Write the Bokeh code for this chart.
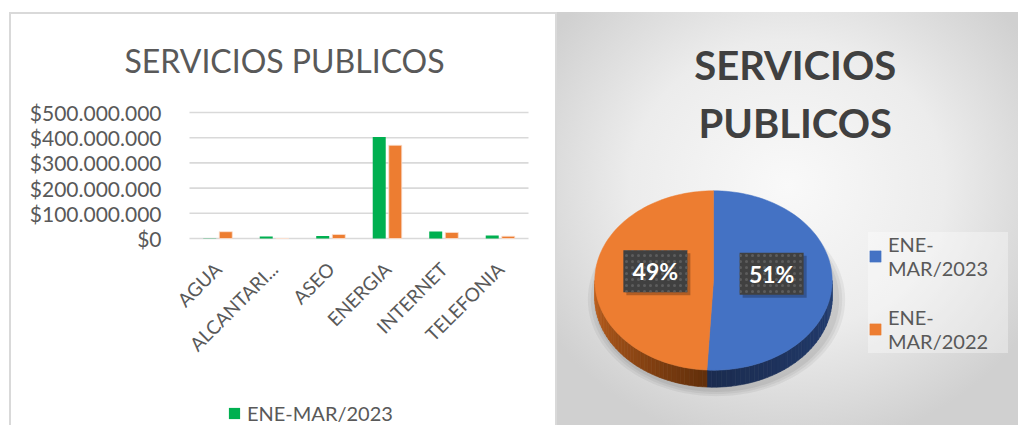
import math
from bokeh.plotting import figure
from bokeh.layouts import row
from bokeh.models import (ColumnDataSource, Range1d, FixedTicker,
                          Legend, LegendItem, Label)
from bokeh.core.properties import value
from bokeh.embed import file_html
from bokeh.resources import INLINE

# ---------------- data ----------------
categories = ["AGUA", "ALCANTARI...", "ASEO", "ENERGIA", "INTERNET", "TELEFONIA"]
series_names = ["ENE-MAR/2023", "ENE-MAR/2022"]
values_2023 = [1_000_000, 8_000_000, 10_000_000, 403_000_000, 28_000_000, 12_000_000]
values_2022 = [27_000_000, 0, 16_000_000, 370_000_000, 24_000_000, 9_000_000]
y_ticks = [0, 100_000_000, 200_000_000, 300_000_000, 400_000_000, 500_000_000]
y_tick_labels = ["$0", "$100.000.000", "$200.000.000", "$300.000.000",
                 "$400.000.000", "$500.000.000"]
chart_title = "SERVICIOS PUBLICOS"
pie_title_lines = ["SERVICIOS", "PUBLICOS"]
pie_labels = ["ENE-\nMAR/2023", "ENE-\nMAR/2022"]
pie_values = [sum(values_2023), sum(values_2022)]

GREEN, ORANGE, BLUE = "#00B050", "#ED7D31", "#4472C4"
TXT = "#595959"
FONT = "Lato"

# ---------------- left: clustered bar chart ----------------
W1, H1 = 548, 413
AX_LEFT_PX, AX_RIGHT_PX = 180, 519       # pixel columns of the plot area
AX_TOP_PX, AX_BOT_PX = 100, 226          # pixel rows of the 500M and 0 gridlines
ncat = len(categories)
YMAX = y_ticks[-1]
py_per_unit = (AX_BOT_PX - AX_TOP_PX) / YMAX
px_per_cat = (AX_RIGHT_PX - AX_LEFT_PX) / ncat
x_lo = -AX_LEFT_PX / px_per_cat
x_hi = ncat + (W1 - AX_RIGHT_PX) / px_per_cat
y_hi = YMAX + AX_TOP_PX / py_per_unit
y_lo = -(H1 - AX_BOT_PX) / py_per_unit

p1 = figure(width=W1, height=H1,
            x_range=Range1d(x_lo, x_hi), y_range=Range1d(y_lo, y_hi),
            output_backend="svg", toolbar_location=None,
            min_border=0, margin=(12, 0, 0, 9))
p1.frame_align = False
p1.outline_line_color = None
p1.background_fill_color = None
p1.border_fill_color = None
p1.styles = {"background": "white",
             "box-shadow": "inset 2px 2px 0 #d9d9d9, inset -2px 0 0 #d9d9d9"}
p1.grid.visible = False

# horizontal gridlines over the plot area only, at the value-axis ticks
p1.segment(x0=0, x1=ncat, y0=y_ticks, y1=y_ticks,
           line_color="#d9d9d9", line_width=1.6)

cat_x = [i + 0.5 for i in range(ncat)]
src = ColumnDataSource(dict(
    x23=[x - 0.142 for x in cat_x], x22=[x + 0.142 for x in cat_x],
    v23=values_2023, v22=values_2022))
r23 = p1.vbar(x="x23", top="v23", width=0.23, source=src,
              fill_color=GREEN, line_color=None)
r22 = p1.vbar(x="x22", top="v22", width=0.23, source=src,
              fill_color=ORANGE, line_color="#fbe0cf", line_width=0.8)

ya = p1.yaxis[0]
ya.fixed_location = 0
ya.ticker = FixedTicker(ticks=y_ticks)
ya.major_label_overrides = dict(zip(y_ticks, y_tick_labels))
ya.axis_line_color = None
ya.major_tick_line_color = None
ya.minor_tick_line_color = None
ya.major_tick_out = 0
ya.major_tick_in = 0
ya.major_label_standoff = 28
ya.major_label_text_font = FONT
ya.major_label_text_font_size = "21px"
ya.major_label_text_color = TXT

xa = p1.xaxis[0]
xa.fixed_location = 0
xa.ticker = FixedTicker(ticks=cat_x)
xa.major_label_overrides = dict(zip(cat_x, categories))
xa.major_label_orientation = math.pi / 4
xa.axis_line_color = None
xa.major_tick_line_color = None
xa.minor_tick_line_color = None
xa.major_tick_out = 0
xa.major_tick_in = 0
xa.major_label_standoff = 27
xa.major_label_text_font = FONT
xa.major_label_text_font_size = "19px"
xa.major_label_text_color = TXT

TITLE_CX, TITLE_BASE = 275, 48
p1.add_layout(Label(x=(TITLE_CX - AX_LEFT_PX) / px_per_cat,
                    y=YMAX + (AX_TOP_PX - TITLE_BASE) / py_per_unit, text=chart_title,
                    text_align="center", text_baseline="alphabetic",
                    text_font=FONT, text_font_size="32px", text_color=TXT))

leg1 = Legend(items=[LegendItem(label=series_names[0], renderers=[r23])],
              location=(218, 0), padding=0, margin=0, spacing=0,
              glyph_width=14, glyph_height=14, label_standoff=6,
              label_text_font=FONT, label_text_font_size="20px",
              label_text_color=TXT, border_line_color=None,
              background_fill_alpha=0)
p1.add_layout(leg1)

# ---------------- right: 3D-look pie ----------------
W2, H2 = 461, 413
p2 = figure(width=W2, height=H2, x_range=Range1d(0, W2), y_range=Range1d(H2, 0),
            x_axis_type=None, y_axis_type=None,
            output_backend="svg", toolbar_location=None,
            min_border=0, margin=(12, 0, 0, 0))
p2.frame_align = False
p2.grid.visible = False
p2.outline_line_color = None
p2.background_fill_color = None
p2.border_fill_color = None
p2.styles = {"background": "radial-gradient(ellipse 62% 64% at 50% 42%, #f9f9f9 0%, #ececec 55%, #d0d0d0 100%)"}

cx, cy, rx, ry, depth = 156.0, 268.0, 118.7, 89.7, 17.0
total = float(sum(pie_values))
fracs = [v / total for v in pie_values]


def ept(theta_deg, dy=0.0):
    t = math.radians(theta_deg)
    return cx + rx * math.cos(t), cy - ry * math.sin(t) + dy


def lerp_hex(c1, c2, t):
    a = [int(c1[i:i + 2], 16) for i in (1, 3, 5)]
    b = [int(c2[i:i + 2], 16) for i in (1, 3, 5)]
    return "#%02x%02x%02x" % tuple(round(a[k] + (b[k] - a[k]) * t) for k in range(3))


# soft shadow under the pie
for k, a in enumerate([0.05, 0.05, 0.06]):
    grow = 10 - 3 * k
    xs, ys = [], []
    for i in range(121):
        t = math.radians(360 * i / 120)
        xs.append(cx + 3 + (rx + grow) * math.cos(t))
        ys.append(cy + depth + 2 + (ry + grow * 0.7) * math.sin(t))
    p2.patch(xs, ys, fill_color="black", fill_alpha=a, line_color=None)

# slice angle boundaries (clockwise from 12 o'clock)
starts, ends = [], []
ang = 90.0
for f in fracs:
    starts.append(ang)
    ang -= 360 * f
    ends.append(ang)

side_colors = [("#243f73", "#1b2c50"), ("#c2631f", "#5e2d0a")]
for si in range(len(fracs)):
    a0, a1 = starts[si], ends[si]
    lo, hi = max(a1, -180.0), min(a0, 0.0)
    if hi <= lo:
        continue
    n = 40
    qx, qy, qc = [], [], []
    for i in range(n):
        t0 = hi - (hi - lo) * i / n
        t1 = hi - (hi - lo) * (i + 1) / n
        x0, y0 = ept(t0)
        x1, y1 = ept(t1)
        qx.append([x0, x1, x1, x0])
        qy.append([y0, y1, y1 + depth, y0 + depth])
        shade = 1 - abs(((t0 + t1) / 2 + 90)) / 90.0
        qc.append(lerp_hex(side_colors[si][0], side_colors[si][1], max(0, min(1, shade))))
    p2.patches(qx, qy, fill_color=qc, line_color=qc, line_width=0.6)

face_colors = [BLUE, ORANGE]
face_renderers = []
for si in range(len(fracs)):
    xs, ys = [cx], [cy]
    n = 90
    for i in range(n + 1):
        x, y = ept(starts[si] + (ends[si] - starts[si]) * i / n)
        xs.append(x)
        ys.append(y)
    face_renderers.append(p2.patch(xs, ys, fill_color=face_colors[si],
                                   line_color=face_colors[si], line_width=0.5))

# data labels
lab_x, lab_y, lab_t = [], [], []
for si in range(len(fracs)):
    mid = (starts[si] + ends[si]) / 2
    x, y = ept(mid)
    lab_x.append(cx + (x - cx) * 0.49)
    lab_y.append(cy + (y - cy) * 0.49 - 8)
    lab_t.append(f"{round(100 * fracs[si])}%")
lsrc = ColumnDataSource(dict(x=lab_x, y=lab_y, t=lab_t,
                             xs=[v + 3 for v in lab_x], ys=[v + 3 for v in lab_y]))
p2.rect("xs", "ys", width=64, height=42, width_units="screen", height_units="screen",
        source=lsrc, fill_color="black", fill_alpha=0.25, line_color=None)
p2.rect("x", "y", width=64, height=42, width_units="screen", height_units="screen",
        source=lsrc, fill_color="#404040", line_color=None,
        hatch_pattern="dot", hatch_color="#5c5c5c", hatch_scale=6, hatch_weight=1.5)
p2.text("x", "y", text="t", source=lsrc, text_align="center", text_baseline="middle",
        text_font=value(FONT), text_font_style="bold", text_font_size="23px",
        text_color="white")

# title
p2.text(x=[237.7, 237.7], y=[52, 110], text=pie_title_lines, text_align="center",
        text_baseline="alphabetic", text_font=value(FONT), text_font_style="bold",
        text_font_size="40px", text_color="#404040")

leg2 = Legend(items=[LegendItem(label=pie_labels[i], renderers=[face_renderers[i]])
                     for i in range(len(pie_labels))],
              location=(311, 72), padding=16, spacing=25,
              glyph_width=14, glyph_height=14, label_standoff=6,
              label_width=120,
              label_text_font=FONT, label_text_font_size="20px",
              label_text_line_height=1.35,
              label_text_color=TXT, border_line_color=None,
              background_fill_color="white", background_fill_alpha=0.35)
p2.add_layout(leg2)

layout = row(p1, p2, spacing=0)
open("out.html", "w").write(file_html(layout, INLINE))
